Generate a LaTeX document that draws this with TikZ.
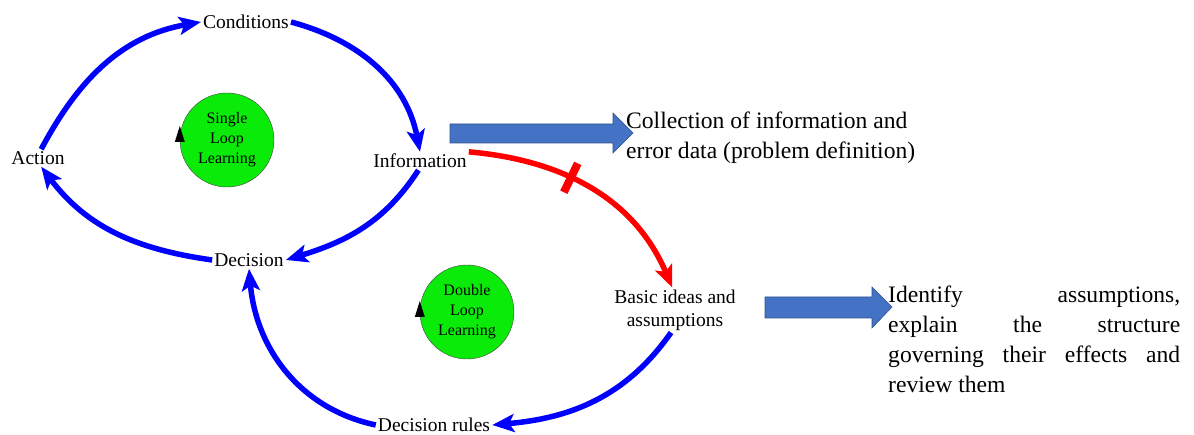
\documentclass[tikz,border=0pt]{standalone}
\usepackage{fontspec}
\setmainfont{Liberation Serif}
\usetikzlibrary{arrows.meta}

\definecolor{loopblue}{RGB}{0,0,255}
\definecolor{loopred}{RGB}{255,0,0}
\definecolor{loopgreen}{RGB}{10,235,10}
\definecolor{boxblue}{RGB}{68,114,196}
\definecolor{boxedge}{RGB}{47,82,143}

\tikzset{
  lbl/.style={inner sep=2pt, font=\fontsize{19.5}{23}\selectfont, align=center},
  note/.style={inner sep=0pt, font=\fontsize{23.6}{30}\selectfont, align=left, anchor=west},
  loopcircle/.style={circle, draw=black!75, thin, fill=loopgreen, minimum size=94pt,
    inner sep=0pt, align=center, font=\fontsize{16}{20}\selectfont},
  flow/.style={draw=loopblue, line width=5.5pt, -{Stealth[length=22pt,width=18pt,inset=5pt]}},
  redflow/.style={flow, draw=loopred},
  cut/.style={fill=loopred, minimum width=8pt, minimum height=32pt, inner sep=0pt, sloped},
  blockarrow/.style={fill=boxblue, draw=boxedge, line width=0.6pt}
}

\begin{document}
\begin{tikzpicture}[x=1pt, y=1pt]
  \useasboundingbox (0,0) rectangle (1194,-435);
  \begin{scope}
    \node[lbl] (cond)  at (246,-22)  {Conditions};
    \node[lbl] (act)   at (38,-158)  {Action};
    \node[lbl] (info)  at (420,-161) {Information};
    \node[lbl] (dec)   at (249,-260) {Decision};
    \node[lbl] (basic) at (675,-310) {Basic ideas and\\assumptions};
    \node[lbl] (rules) at (434,-425) {Decision rules};

    \node[loopcircle] (sll) at (227,-140) {Single\\Loop\\Learning};
    \node[loopcircle] (dll) at (467,-312) {Double\\Loop\\Learning};
    \fill ([yshift=-2pt]sll.west) -- ++(-5,0) -- ++(5,16) -- ++(5,-16) -- cycle;
    \fill ([yshift=-5pt]dll.west) -- ++(-5,0) -- ++(5,16) -- ++(5,-16) -- cycle;

    \draw[flow] (act.70) to[out=62, in=190] (cond.west);
    \draw[flow] (cond.east) to[out=-15, in=101] (info.north);
    \draw[flow] (info.-100) to[out=237, in=17] (dec.east);
    \draw[flow] (dec.west) to[out=172, in=307] (act.-70);
    \draw[redflow] (info.north east) to[out=-5, in=113]
      node[cut, pos=0.4] {} (basic.97);
    \draw[flow] (basic.-100) to[out=235, in=5] (rules.east);
    \draw[flow] (rules.west) to[out=168, in=275] (dec.south);

    \filldraw[blockarrow] (450,-124) -- (613,-124) -- (613,-113) -- (633,-133)
      -- (613,-153) -- (613,-143) -- (450,-143) -- cycle;
    \filldraw[blockarrow] (765,-297) -- (872,-297) -- (872,-287) -- (892,-307)
      -- (872,-328) -- (872,-318) -- (765,-318) -- cycle;

    \node[note] (coll) at (626,-138) {Collection of information and\\error data (problem definition)};
    \node[note] (ident) at (888,-339) {\makebox[292pt][s]{Identify assumptions,}\\
      \makebox[292pt][s]{explain the structure}\\
      \makebox[292pt][s]{governing their effects and}\\
      review them};
  \end{scope}
\end{tikzpicture}
\end{document}
